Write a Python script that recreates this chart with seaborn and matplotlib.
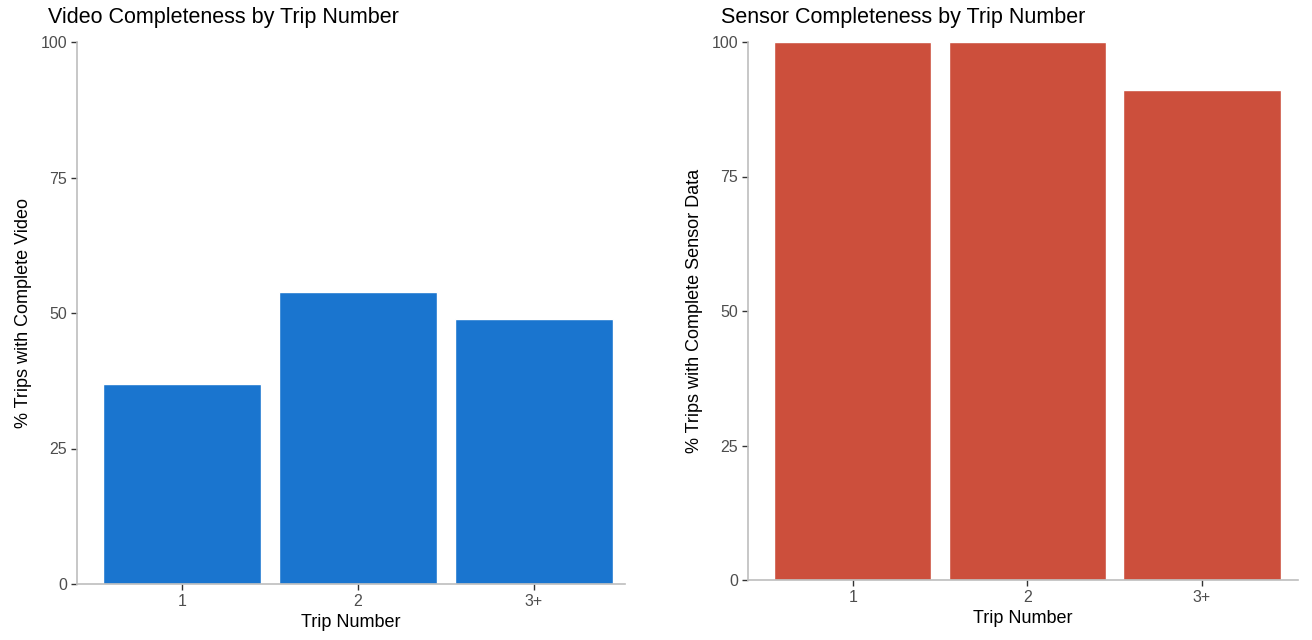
import pandas as pd
import matplotlib.pyplot as plt
import seaborn as sns

#---data---
trips = ["1", "2", "3+"]
video_pct = [36.9, 53.9, 48.9]
sensor_pct = [100.0, 100.0, 91.1]

video_df = pd.DataFrame({"trip": trips, "pct": video_pct})
sensor_df = pd.DataFrame({"trip": trips, "pct": sensor_pct})

sns.set_theme(style="white")
plt.rcParams["font.family"] = ["Liberation Sans", "DejaVu Sans"]

fig = plt.figure(figsize=(13.12, 6.4), dpi=100)
ax1 = fig.add_axes([77 / 1312, 1 - 584 / 640, 548 / 1312, 542 / 640])
ax2 = fig.add_axes([748 / 1312, 1 - 580 / 640, 550 / 1312, 538 / 640])

panels = [
    (ax1, video_df, "#1A75CF", "Video Completeness by Trip Number", "% Trips with Complete Video", 48, 2.52),
    (ax2, sensor_df, "#CC4F3C", "Sensor Completeness by Trip Number", "% Trips with Complete Sensor Data", 721, 2.55),
]

for ax, df, col, title, ylab, title_x, xmax in panels:
    sns.barplot(data=df, x="trip", y="pct", color=col, width=0.9,
                saturation=1, ax=ax, errorbar=None)
    ax.set_xlim(-0.6, xmax)
    ax.set_ylim(0, 100)
    ax.set_yticks([0, 25, 50, 75, 100])
    ax.set_xlabel("Trip Number", fontsize=13, color="black", labelpad=4)
    ax.set_ylabel(ylab, fontsize=13, color="black", labelpad=6)
    ax.tick_params(axis="both", which="both", length=4, width=1, color="#333333",
                   labelsize=11.5, labelcolor="#4D4D4D", pad=3, direction="out")
    ax.tick_params(left=True, bottom=True)
    for side in ["top", "right"]:
        ax.spines[side].set_visible(False)
    for side in ["left", "bottom"]:
        ax.spines[side].set_color("#BEBEBE")
        ax.spines[side].set_linewidth(1.2)
    fig.text(title_x / 1312, 1 - 18 / 640, title, fontsize=15.5, color="black", va="center", ha="left")

plt.savefig("out.png", dpi=100)
